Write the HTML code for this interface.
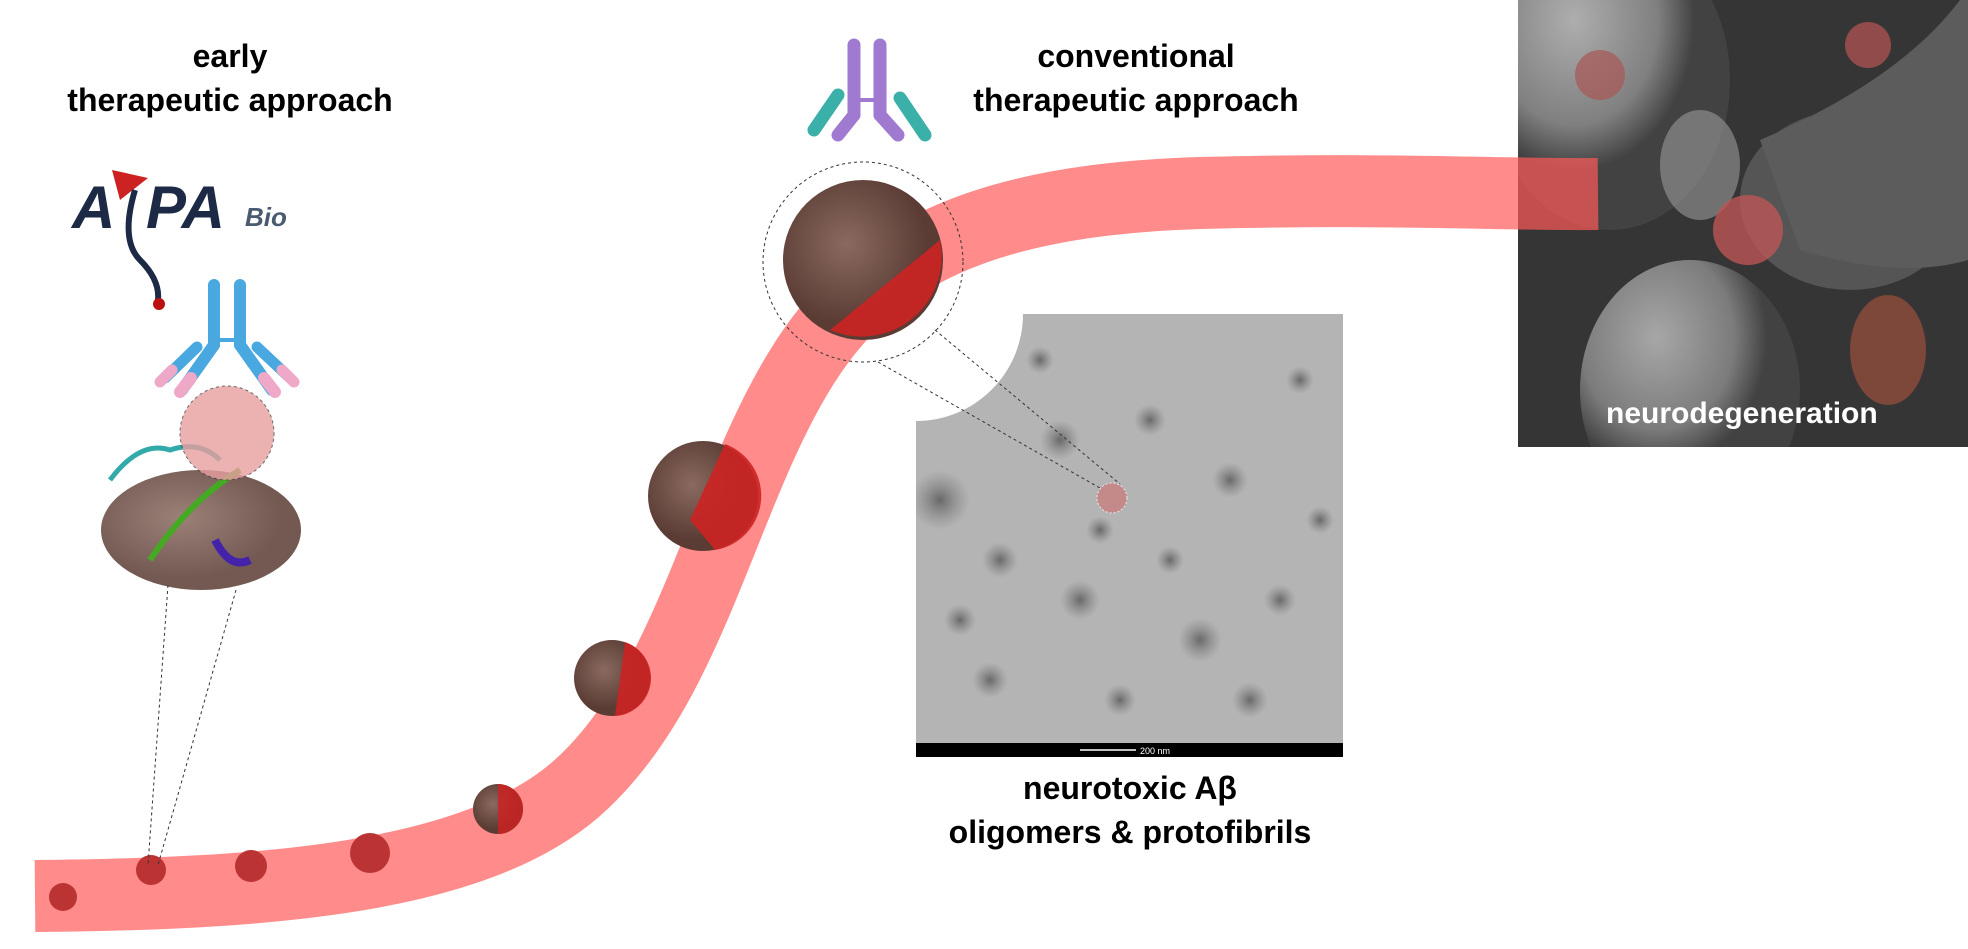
<!DOCTYPE html>
<html><head><meta charset="utf-8"><style>
html,body{margin:0;padding:0;background:#fff;}
body{width:1968px;height:949px;overflow:hidden;position:relative;font-family:"Liberation Sans",sans-serif;}
.t{position:absolute;font-weight:bold;font-size:32px;text-align:center;line-height:44px;color:#000;}
</style></head><body>
<svg width="1968" height="949" style="position:absolute;left:0;top:0">
<defs>
<radialGradient id="spot"><stop offset="0" stop-color="#555" stop-opacity=".8"/><stop offset="1" stop-color="#777" stop-opacity="0"/></radialGradient>
<radialGradient id="brown" cx=".4" cy=".4"><stop offset="0" stop-color="#8a6a60"/><stop offset="1" stop-color="#5a3c34"/></radialGradient>
<radialGradient id="neu" cx=".35" cy=".3"><stop offset="0" stop-color="#bbb"/><stop offset=".7" stop-color="#888"/><stop offset="1" stop-color="#444"/></radialGradient>
<clipPath id="tem"><path d="M916,421 A107,107 0 0 0 1023,314 L1343,314 L1343,757 L916,757 Z"/></clipPath>
<clipPath id="ph"><rect x="1518" y="0" width="450" height="447"/></clipPath>
</defs>
<!-- dark photo -->
<g clip-path="url(#ph)">
<rect x="1518" y="0" width="450" height="447" fill="#353535"/>
<ellipse cx="1610" cy="80" rx="120" ry="150" fill="url(#neu)" opacity=".9"/>
<ellipse cx="1700" cy="165" rx="40" ry="55" fill="#9a9a9a" opacity=".6"/>
<ellipse cx="1850" cy="200" rx="110" ry="90" fill="#555"/>
<path d="M1760,140 Q1900,80 1960,0 L1968,0 L1968,260 Q1900,280 1800,250 Z" fill="#5c5c5c"/>
<ellipse cx="1690" cy="390" rx="110" ry="130" fill="url(#neu)" opacity=".85"/>
<circle cx="1748" cy="230" r="35" fill="#b55" opacity=".8"/>
<circle cx="1868" cy="45" r="23" fill="#b55" opacity=".7"/>
<circle cx="1600" cy="75" r="25" fill="#a55" opacity=".7"/>
<ellipse cx="1888" cy="350" rx="38" ry="55" fill="#8a4a3a" opacity=".85"/>
</g>
<!-- TEM -->
<g clip-path="url(#tem)">
<rect x="916" y="314" width="427" height="443" fill="#b4b4b4"/>
<g fill="url(#spot)">
<circle cx="940" cy="500" r="30"/><circle cx="1000" cy="560" r="18"/><circle cx="1080" cy="600" r="20"/><circle cx="1150" cy="420" r="16"/><circle cx="1230" cy="480" r="18"/><circle cx="1300" cy="380" r="14"/><circle cx="1060" cy="440" r="20"/><circle cx="1200" cy="640" r="22"/><circle cx="1280" cy="600" r="16"/><circle cx="990" cy="680" r="18"/><circle cx="1120" cy="700" r="16"/><circle cx="1250" cy="700" r="18"/><circle cx="1320" cy="520" r="14"/><circle cx="1100" cy="530" r="14"/><circle cx="960" cy="620" r="16"/><circle cx="1170" cy="560" r="14"/><circle cx="1040" cy="360" r="14"/>
</g>
<rect x="916" y="743" width="427" height="14" fill="#000"/>
</g>
<line x1="1080" y1="750" x2="1136" y2="750" stroke="#fff" stroke-width="1.5"/>
<text x="1140" y="754" font-size="9" fill="#fff" font-family="Liberation Sans">200 nm</text>
<circle cx="1112" cy="498" r="15" fill="#c77" opacity=".7" stroke="#fff" stroke-dasharray="2 2"/>
<!-- band -->
<path d="M35,896 C260,894 470,880 575,790 C690,690 720,500 800,370 C870,255 980,200 1200,193 C1400,188 1500,195 1598,194" fill="none" stroke="#ff5a5a" stroke-opacity=".7" stroke-width="72"/>
<!-- blobs -->
<g>
<circle cx="63" cy="897" r="14" fill="#b33"/>
<circle cx="151" cy="870" r="15" fill="#b33"/>
<circle cx="251" cy="866" r="16" fill="#b33"/>
<circle cx="370" cy="853" r="20" fill="#b33"/>
<circle cx="498" cy="809" r="25" fill="url(#brown)"/><path d="M498,784 A25,25 0 0 1 498,834 Z" fill="#c22" opacity=".85"/>
<circle cx="612" cy="678" r="38" fill="url(#brown)"/><path d="M625,642 A38,38 0 0 1 615,716 Z" fill="#c22" opacity=".9"/>
<circle cx="703" cy="496" r="55" fill="url(#brown)"/><path d="M725,444 A55,55 0 0 1 715,550 L690,520 Z" fill="#c22" opacity=".9"/>
<circle cx="863" cy="260" r="80" fill="url(#brown)"/><path d="M940,240 A80,80 0 0 1 830,330 Z" fill="#c22" opacity=".9"/>
</g>
<circle cx="863" cy="262" r="100" fill="none" stroke="#333" stroke-dasharray="3 3"/>
<line x1="878" y1="362" x2="1100" y2="488" stroke="#333" stroke-dasharray="3 3"/>
<line x1="935" y1="330" x2="1120" y2="484" stroke="#333" stroke-dasharray="3 3"/>
<!-- left big molecule -->
<ellipse cx="201" cy="530" rx="100" ry="60" fill="url(#brown)" opacity=".85"/>
<path d="M110,480 Q140,440 170,450 Q200,440 220,460" fill="none" stroke="#3aa" stroke-width="5"/>
<path d="M150,560 Q190,500 240,470" fill="none" stroke="#4a2" stroke-width="6"/>
<path d="M215,540 Q230,570 250,560" fill="none" stroke="#42a" stroke-width="8"/>
<circle cx="227" cy="433" r="47" fill="#e8a0a0" opacity=".8" stroke="#444" stroke-dasharray="3 3"/>
<line x1="168" y1="585" x2="148" y2="865" stroke="#333" stroke-dasharray="3 3"/>
<line x1="236" y1="590" x2="158" y2="865" stroke="#333" stroke-dasharray="3 3"/>
<!-- blue antibody -->
<g stroke-linecap="round" fill="none">
<line x1="214" y1="285" x2="214" y2="345" stroke="#4aa8e0" stroke-width="12"/>
<line x1="240" y1="285" x2="240" y2="345" stroke="#4aa8e0" stroke-width="12"/>
<line x1="214" y1="340" x2="240" y2="340" stroke="#4aa8e0" stroke-width="4"/>
<line x1="214" y1="345" x2="182" y2="390" stroke="#4aa8e0" stroke-width="12"/>
<line x1="240" y1="345" x2="272" y2="390" stroke="#4aa8e0" stroke-width="12"/>
<line x1="197" y1="347" x2="165" y2="378" stroke="#4aa8e0" stroke-width="11"/>
<line x1="257" y1="347" x2="290" y2="378" stroke="#4aa8e0" stroke-width="11"/>
<line x1="191" y1="378" x2="180" y2="392" stroke="#f0a8c8" stroke-width="12"/>
<line x1="264" y1="378" x2="275" y2="392" stroke="#f0a8c8" stroke-width="12"/>
<line x1="172" y1="370" x2="160" y2="382" stroke="#f0a8c8" stroke-width="11"/>
<line x1="282" y1="370" x2="294" y2="382" stroke="#f0a8c8" stroke-width="11"/>
<!-- purple antibody -->
<line x1="854" y1="45" x2="854" y2="115" stroke="#a07ad0" stroke-width="13"/>
<line x1="880" y1="45" x2="880" y2="115" stroke="#a07ad0" stroke-width="13"/>
<line x1="854" y1="100" x2="880" y2="100" stroke="#a07ad0" stroke-width="4"/>
<line x1="854" y1="115" x2="838" y2="135" stroke="#a07ad0" stroke-width="13"/>
<line x1="880" y1="115" x2="898" y2="135" stroke="#a07ad0" stroke-width="13"/>
<line x1="838" y1="95" x2="814" y2="130" stroke="#3ab0a8" stroke-width="13"/>
<line x1="900" y1="98" x2="925" y2="135" stroke="#3ab0a8" stroke-width="13"/>
</g>
<!-- logo -->
<text x="72" y="228" font-family="Liberation Sans" font-weight="bold" font-style="italic" font-size="60" fill="#1d2a46">A</text>
<path d="M112,170 L148,178 L120,200 Z" fill="#c22"/>
<path d="M135,190 Q120,240 140,260 Q160,280 158,300" fill="none" stroke="#1d2a46" stroke-width="6"/>
<circle cx="159" cy="304" r="6" fill="#b11"/>
<text x="146" y="228" font-family="Liberation Sans" font-weight="bold" font-style="italic" font-size="60" fill="#1d2a46">PA</text>
<text x="245" y="226" font-family="Liberation Sans" font-weight="bold" font-style="italic" font-size="26" fill="#4a5a70">Bio</text>
<text x="1606" y="423" font-family="Liberation Sans" font-weight="bold" font-size="30" fill="#fff">neurodegeneration</text>
</svg>
<div class="t" style="left:30px;top:34px;width:400px">early<br>therapeutic approach</div>
<div class="t" style="left:936px;top:34px;width:400px">conventional<br>therapeutic approach</div>
<div class="t" style="left:930px;top:766px;width:400px">neurotoxic Aβ<br>oligomers &amp; protofibrils</div>
</body></html>
